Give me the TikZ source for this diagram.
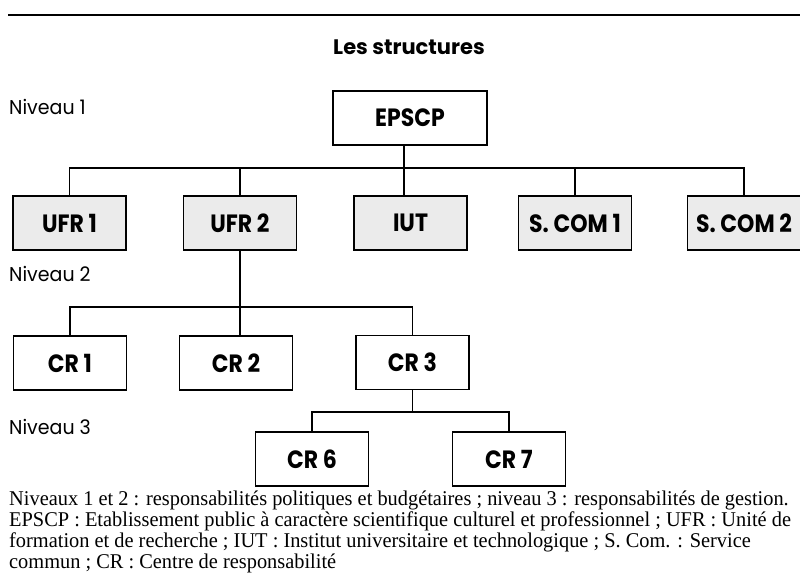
\documentclass[tikz,border=0pt]{standalone}
\usepackage{fontspec}
\setmainfont{Liberation Serif}
\newfontfamily\orgfont{Poppins}
\newfontfamily\unitfont[FakeStretch=0.88]{Poppins}
\newfontfamily\levelfont[FakeStretch=0.95]{Poppins}
\newfontfamily\notefont[FakeStretch=0.97]{Liberation Serif}
\tikzset{
  unit/.style={draw, line width=1.2pt, minimum width=113pt, minimum height=54pt,
    inner sep=0pt, font=\unitfont\bfseries\fontsize{25}{25}\selectfont},
  shaded/.style={unit, fill=black!8},
  level/.style={anchor=west, inner sep=0pt, font=\levelfont\fontsize{20}{20}\selectfont},
  link/.style={line width=1.2pt}
}
\begin{document}
\begin{tikzpicture}[x=1pt, y=-1pt]
  \useasboundingbox (0,0) rectangle (800,578);
  % Draw top rule and title
  \draw[line width=2pt] (8,15) -- (800,15);
  \node[font=\orgfont\bfseries\fontsize{21}{21}\selectfont] (title) at (409,47) {Les structures};
  % Level labels
  \foreach \y/\n in {107/1, 274/2, 427/3} {
    \node[level] (niv\n) at (9,\y) {Niveau \n};
  }

  % Level 1 and level 2 units
  \node[unit, minimum width=154pt] (epscp) at (410,118) {EPSCP};
  \foreach \x/\id/\name in {69.5/ufr1/UFR 1, 240/ufr2/UFR 2, 410.5/iut/IUT, 575/scom1/S. COM 1, 744/scom2/S. COM 2} {
    \node[shaded] (\id) at (\x,223) {\name};
  }
  % Centres de responsabilite
  \foreach \x/\y/\id/\name in {70/363/cr1/CR 1, 236/363/cr2/CR 2, 412.5/362.5/cr3/CR 3, 312/459/cr6/CR 6, 509/459/cr7/CR 7} {
    \node[unit] (\id) at (\x,\y) {\name};
  }

  % Draw connectors
  \coordinate (bus1) at (0,168);
  \coordinate (bus2) at (0,307);
  \coordinate (bus3) at (0,412);
  \draw[link] ([xshift=-6pt]epscp.south) -- ([xshift=-6pt]epscp.south |- iut.north);
  \draw[link] (ufr1.north) -- (ufr1.north |- bus1) -| (scom2.north);
  \foreach \id in {ufr2, scom1} {
    \draw[link] (\id.north) -- (\id.north |- bus1);
  }
  \draw[link] (ufr2.south) -- (ufr2.south |- cr2.north);
  \draw[link] (cr1.north) -- (cr1.north |- bus2) -| (cr3.north);
  \draw[link] (cr3.south) -- (cr3.south |- bus3);
  \draw[link] (cr6.north) -- (cr6.north |- bus3) -| (cr7.north);

  % Legend
  \node[anchor=north west, inner sep=0pt, align=left, font=\notefont\fontsize{21}{21}\selectfont] (note) at (9,491)
    {Niveaux 1 et 2 : responsabilités politiques et budgétaires ; niveau 3 : responsabilités de gestion.\\
     EPSCP : Etablissement public à caractère scientifique culturel et professionnel ; UFR : Unité de\\
     formation et de recherche ; IUT : Institut universitaire et technologique ; S. Com. : Service\\
     commun ; CR : Centre de responsabilité};
\end{tikzpicture}
\end{document}
